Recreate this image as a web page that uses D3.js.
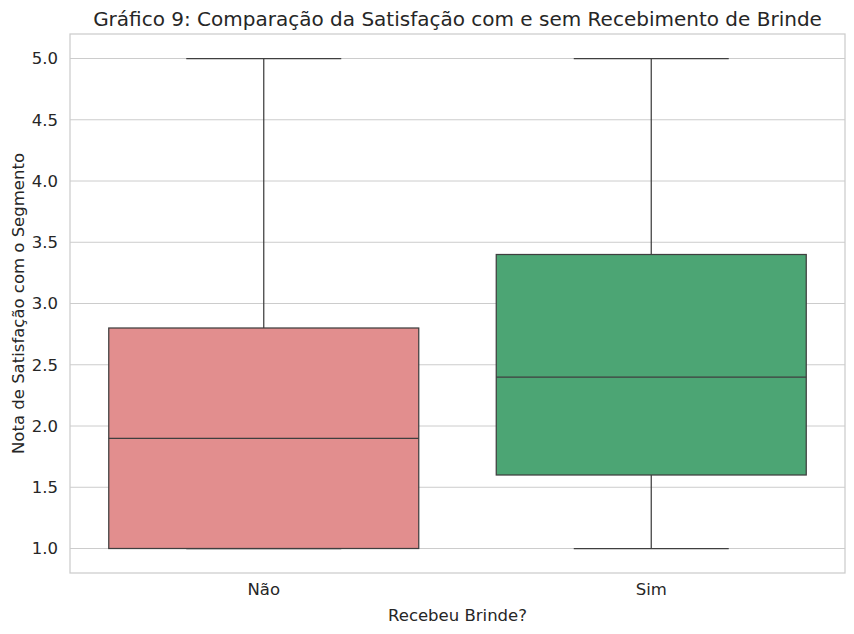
<!DOCTYPE html>
<html>
<head>
<meta charset="utf-8">
<script src="https://d3js.org/d3.v7.min.js"></script>
<style>
  body { margin: 0; background: #fff; }
  text { font-family: "DejaVu Sans", sans-serif; fill: #262626; }
</style>
</head>
<body>
<div id="chart"></div>
<script>
// data
var categories = ["Não", "Sim"];
var mins = [1.0, 1.0];
var q1s = [1.0, 1.6];
var medians = [1.9, 2.4];
var q3s = [2.8, 3.4];
var maxs = [5.0, 5.0];
var colors = ["#e28e8e", "#4ca574"];
var yTicks = [1.0, 1.5, 2.0, 2.5, 3.0, 3.5, 4.0, 4.5, 5.0];

var svgWidth = 854;
var svgHeight = 634;
var margin = { top: 34, right: 9, bottom: 61, left: 70 };
var width = svgWidth - margin.left - margin.right;
var height = svgHeight - margin.top - margin.bottom;

var svg = d3.select("#chart").append("svg")
  .attr("width", svgWidth).attr("height", svgHeight);

var chartGroup = svg.append("g")
  .attr("transform", `translate(${margin.left}, ${margin.top})`);

var boxes = categories.map(function(c, i) {
  return { cat: c, min: mins[i], q1: q1s[i], med: medians[i], q3: q3s[i], max: maxs[i], color: colors[i] };
});

var xScale = d3.scaleBand().domain(categories).range([0, width]).paddingInner(0).paddingOuter(0);
var yScale = d3.scaleLinear().domain([0.8, 5.2]).range([height, 0]);

// grid
chartGroup.append("g")
  .selectAll("line").data(yTicks).enter().append("line")
  .attr("x1", 0).attr("x2", width)
  .attr("y1", d => yScale(d)).attr("y2", d => yScale(d))
  .attr("stroke", "#cccccc").attr("stroke-width", 1);

// y axis
var yAxis = chartGroup.append("g")
  .call(d3.axisLeft(yScale).tickValues(yTicks).tickFormat(d3.format(".1f")).tickSize(0).tickPadding(12));
yAxis.select(".domain").remove();
yAxis.selectAll("text").style("font-size", "16.5px").attr("fill", "#262626");

// x axis
var xAxis = chartGroup.append("g")
  .attr("transform", `translate(0, ${height})`)
  .call(d3.axisBottom(xScale).tickSize(0).tickPadding(10));
xAxis.select(".domain").remove();
xAxis.selectAll("text").style("font-size", "16.5px").attr("fill", "#262626");

var bw = xScale.bandwidth() * 0.8;
var lineColor = "#3f3f3f";

var g = chartGroup.selectAll(".box").data(boxes).enter().append("g")
  .attr("transform", d => `translate(${xScale(d.cat) + xScale.bandwidth() / 2}, 0)`);

// whiskers
g.append("line").attr("x1", 0).attr("x2", 0)
  .attr("y1", d => yScale(d.q3)).attr("y2", d => yScale(d.max))
  .attr("stroke", lineColor).attr("stroke-width", 1.25);
g.append("line").attr("x1", 0).attr("x2", 0)
  .attr("y1", d => yScale(d.q1)).attr("y2", d => yScale(d.min))
  .attr("stroke", lineColor).attr("stroke-width", 1.25);
// caps
g.append("line").attr("x1", -bw / 4).attr("x2", bw / 4)
  .attr("y1", d => yScale(d.max)).attr("y2", d => yScale(d.max))
  .attr("stroke", lineColor).attr("stroke-width", 1.25);
g.append("line").attr("x1", -bw / 4).attr("x2", bw / 4)
  .attr("y1", d => yScale(d.min)).attr("y2", d => yScale(d.min))
  .attr("stroke", lineColor).attr("stroke-width", 1.25);

// box
g.append("rect")
  .attr("x", -bw / 2).attr("width", bw)
  .attr("y", d => yScale(d.q3))
  .attr("height", d => yScale(d.q1) - yScale(d.q3))
  .attr("fill", d => d.color)
  .attr("stroke", lineColor).attr("stroke-width", 1.25);

// median
g.append("line").attr("x1", -bw / 2).attr("x2", bw / 2)
  .attr("y1", d => yScale(d.med)).attr("y2", d => yScale(d.med))
  .attr("stroke", lineColor).attr("stroke-width", 1.25);

// frame
chartGroup.append("rect")
  .attr("x", 0).attr("y", 0).attr("width", width).attr("height", height)
  .attr("fill", "none").attr("stroke", "#cccccc").attr("stroke-width", 1.25);

// title and labels
svg.append("text")
  .attr("x", margin.left + width / 2).attr("y", 26)
  .attr("text-anchor", "middle").style("font-size", "20px")
  .text("Gráfico 9: Comparação da Satisfação com e sem Recebimento de Brinde");

svg.append("text")
  .attr("x", margin.left + width / 2).attr("y", 621)
  .attr("text-anchor", "middle").style("font-size", "16.5px")
  .text("Recebeu Brinde?");

svg.append("text")
  .attr("transform", `translate(24, ${margin.top + height / 2}) rotate(-90)`)
  .attr("text-anchor", "middle").style("font-size", "16.5px")
  .text("Nota de Satisfação com o Segmento");
</script>
</body>
</html>
